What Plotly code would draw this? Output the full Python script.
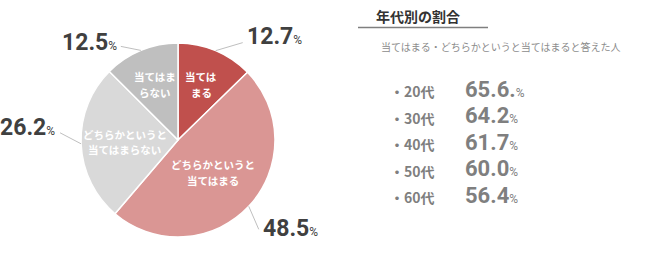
import math
import plotly.graph_objects as go

# ---- data ----
slice_labels = [["当ては", "まる"], ["どちらかというと", "当てはまる"],
                ["どちらかというと", "当てはまらない"], ["当てはま", "らない"]]
slice_values = [12.7, 48.5, 26.2, 12.5]
slice_colors = ["#c0504d", "#da9694", "#d9d9d9", "#bfbfbf"]

age_labels = ["20代", "30代", "40代", "50代", "60代"]
age_values = [65.6, 64.2, 61.7, 60.0, 56.4]
age_value_text = ["65.6.", "64.2", "61.7", "60.0", "56.4"]  # as printed in the source

title_text = "年代別の割合"
subtitle_text = "当てはまる・どちらかというと当てはまると答えた人"

# ---- geometry (pixels) ----
W, H = 650, 261
CX, CY, R = 178, 140, 97
FONT = "Noto Sans CJK JP"
NUMFONT = "Roboto"

def px(x):
    return x / W

def py(y):
    return 1 - y / H

fig = go.Figure()
fig.add_trace(go.Pie(
    values=slice_values,
    labels=["".join(l) for l in slice_labels],
    marker=dict(colors=slice_colors, line=dict(color="white", width=1.5)),
    sort=False,
    direction="clockwise",
    rotation=0,
    textinfo="none",
    hoverinfo="label+value",
    showlegend=False,
    domain=dict(x=[px(CX - R), px(CX + R)], y=[py(CY + R), py(CY - R)]),
))

annotations = []
shapes = []

# inside-label radial fractions and outside-label offsets (styling)
inside_r = [0.62, 0.49, 0.55, 0.62]
line_gap = 15.4
line_off = [(27, -8), (10, 23), (-21, -11), (-20, -4)]
text_off = [(29, -14), (12, 22), (-24, -16), (-22, -8)]

total = sum(slice_values)
cum = 0.0
for i, v in enumerate(slice_values):
    mid = (cum + v / 2) / total * 2 * math.pi
    cum += v
    s, c = math.sin(mid), math.cos(mid)
    # inside label, one annotation per line
    ix, iy = CX + inside_r[i] * R * s, CY - inside_r[i] * R * c
    n = len(slice_labels[i])
    for k, line in enumerate(slice_labels[i]):
        ly_ = iy + (k - (n - 1) / 2) * line_gap
        annotations.append(dict(
            x=px(ix), y=py(ly_), xref="paper", yref="paper", showarrow=False,
            text="<b>" + line + "</b>",
            font=dict(family=FONT, size=10.5, color="white"), align="center",
            xanchor="center", yanchor="middle",
        ))
    # leader line
    ex, ey = CX + R * s, CY - R * c
    lx, ly = ex + line_off[i][0], ey + line_off[i][1]
    shapes.append(dict(type="line", xref="paper", yref="paper",
                       x0=px(ex), y0=py(ey), x1=px(lx), y1=py(ly),
                       line=dict(color="#bfbfbf", width=1)))
    tx, ty = ex + text_off[i][0], ey + text_off[i][1]
    annotations.append(dict(
        x=px(tx), y=py(ty), xref="paper", yref="paper", showarrow=False,
        text=f"<b>{v:.1f}</b><span style='font-size:12px'>%</span>",
        font=dict(family=NUMFONT, size=23, color="#404040"),
        xanchor="left" if text_off[i][0] > 0 else "right", yanchor="middle",
    ))

# right panel
annotations.append(dict(
    x=px(374), y=py(16), xref="paper", yref="paper", showarrow=False,
    text="<b>" + title_text + "</b>", font=dict(family=FONT, size=14, color="#333333"),
    xanchor="left", yanchor="middle"))
shapes.append(dict(type="line", xref="paper", yref="paper",
                   x0=px(358), x1=px(488), y0=py(27.5), y1=py(27.5),
                   line=dict(color="#7f7f7f", width=1.5)))
annotations.append(dict(
    x=px(379), y=py(47), xref="paper", yref="paper", showarrow=False,
    text=subtitle_text, font=dict(family=FONT, size=10, color="#8c8c8c"),
    xanchor="left", yanchor="middle"))

row_y0, row_dy = 91, 26.5
for i, (lab, val, vt) in enumerate(zip(age_labels, age_values, age_value_text)):
    y = row_y0 + i * row_dy
    annotations.append(dict(
        x=px(388), y=py(y), xref="paper", yref="paper", showarrow=False,
        text="<b>・" + lab + "</b>", font=dict(family=FONT, size=14, color="#7f7f7f"),
        xanchor="left", yanchor="middle"))
    annotations.append(dict(
        x=px(463), y=py(y - 2), xref="paper", yref="paper", showarrow=False,
        text=f"<b>{vt}</b><span style='font-size:12px'>%</span>",
        font=dict(family=NUMFONT, size=22, color="#7f7f7f"),
        xanchor="left", yanchor="middle"))

fig.update_layout(
    width=W, height=H, margin=dict(l=0, r=0, t=0, b=0),
    paper_bgcolor="white", plot_bgcolor="white",
    annotations=annotations, shapes=shapes,
)
fig.write_html("out.html")
